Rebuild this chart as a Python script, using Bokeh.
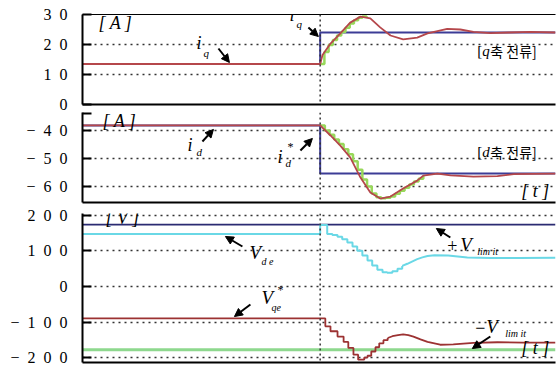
from bokeh.plotting import figure
from bokeh.layouts import column
from bokeh.models import Range1d, FixedTicker, Span, Label, Arrow, NormalHead, LinearAxis
from bokeh.embed import file_html
from bokeh.resources import INLINE

# ---------------- data (time axis, step at t_step) ----------------
t_step = 50.7
t_end = 100.9
t_span = [0, 100.9]

# panel 1 : q-axis current
iq_ref_t = [0, 50.7, 50.7, 100.9]
iq_ref_v = [13.5, 13.5, 24.0, 24.0]
iq_t = [0, 50.7, 51.2, 52.9, 55.0, 57.1, 59.3, 61.4, 63.5, 65.7, 68.4, 71.4, 73.6,
        77.8, 80.6, 83.4, 87.0, 91.0, 95.5, 100.9]
iq_v = [13.5, 13.5, 16.5, 20.3, 23.7, 27.3, 29.3, 28.7, 25.7, 23.0, 21.7, 22.3, 23.7,
        25.2, 25.0, 24.2, 23.8, 24.0, 24.2, 24.0]
iq_smp_t = [50.7, 51.6, 52.5, 53.4, 54.3, 55.2, 56.1, 57.0, 57.9, 58.8, 59.7, 60.6]
iq_smp_v = [13.5, 17.5, 19.8, 21.5, 23.0, 24.2, 25.6, 27.0, 28.1, 28.9, 29.3, 29.2]

# panel 2 : d-axis current
id_ref_t = [0, 50.7, 50.7, 100.9]
id_ref_v = [-38.2, -38.2, -55.4, -55.4]
id_t = [0, 50.7, 52.9, 55.0, 57.1, 59.3, 61.4, 63.5, 65.7, 68.4, 71.4, 72.7, 75.7,
        78.5, 83.4, 88.5, 92.0, 100.9]
id_v = [-38.2, -38.2, -41.8, -45.4, -49.6, -56.8, -62.1, -64.3, -63.6, -60.7, -57.9,
        -56.1, -55.4, -56.0, -56.5, -56.3, -55.6, -55.4]
id_smp_t = [50.7, 51.7, 52.7, 53.7, 54.7, 55.7, 56.7, 57.7, 58.7, 59.7, 60.7, 61.7,
            62.7, 63.7, 64.7, 65.7, 66.7, 67.7, 68.7, 69.7, 70.7, 71.7, 72.7]
id_smp_v = [-38.2, -40.0, -41.5, -43.2, -44.8, -46.7, -48.5, -51.0, -54.0, -57.5, -60.0,
            -62.5, -63.8, -64.2, -64.0, -63.6, -62.6, -61.5, -60.4, -59.3, -58.2, -57.2, -56.2]

# panel 3 : voltages
v_limit_pos = [174, 174]
v_limit_neg = [-178, -178]
# V_de: sampled (stair) part, then smooth part
vde_stair_t = [0, 50.7, 52.2, 53.3, 54.4, 55.4, 56.5, 57.6, 58.6, 59.7, 60.8, 61.8,
               62.9, 64.0, 65.0, 66.1, 67.2, 68.2]
vde_stair_v = [148, 173, 148, 145, 140, 133, 124, 113, 101, 87, 73, 59,
               47, 40, 39, 43, 50, 58]
vde_t = [68.2, 69.3, 70.4, 71.4, 72.5, 73.6, 75.1, 78.0, 82.1, 87.0, 93.0, 100.9]
vde_v = [58, 64, 71, 77, 82, 86, 88, 87, 82, 80, 80, 81]
# V_qe*: sampled (stair) part, then smooth part
vqe_stair_t = [0, 50.7, 51.8, 52.9, 54.4, 55.7, 56.7, 57.8, 58.8, 60.1, 60.8, 61.6,
               62.5, 63.3, 64.2, 65.1]
vqe_stair_v = [-90, -90, -112, -126, -141, -156, -173, -192, -206, -200, -195, -183,
               -171, -160, -151, -145]
vqe_t = [65.1, 66.1, 67.3, 68.4, 69.5, 70.6, 72.1, 73.6, 76.3, 79.1, 83.4, 88.5, 94.0,
         100.9]
vqe_v = [-145, -140, -137, -135, -137, -141, -149, -156, -164, -163, -159, -157, -158,
         -158]

# ticks
p1_ticks = [0, 10, 20, 30]
p1_labels = ["0", "1\u20020", "2\u20020", "3\u20020"]
p2_ticks = [-60, -50, -40]
p2_labels = ["\u2212\u20026\u20020", "\u2212\u20025\u20020", "\u2212\u20024\u20020"]
p3_ticks = [-200, -100, 0, 100, 200]
p3_labels = ["\u2212\u20022\u20020\u20020", "\u2212\u20021\u20020\u20020", "0",
             "1\u20020\u20020", "2\u20020\u20020"]

# ---------------- styling ----------------
SERIF = "'Liberation Serif'"
CJK = "'Noto Sans CJK KR'"
RED = "#b5474b"
NAVY = "#3c3c96"
GREEN = "#98d85a"
CYAN = "#6ad8e6"
DNAVY = "#2b2b72"
LGREEN = "#8ed88e"
VRED = "#9c3232"
GRID = "#333333"

FR_L, FR_W = 82, 473
PX_PER_T = 4.69


def tx(px):
    return (px - FR_L) / PX_PER_T


def make_fig(ylo, yhi, frame_h, b_top, b_bot, ticks, labels, grid_ticks, extra_tick=None):
    p = figure(frame_width=FR_W, frame_height=frame_h,
               x_range=Range1d(0, t_end), y_range=Range1d(ylo, yhi),
               output_backend="svg", toolbar_location=None,
               min_border_left=FR_L, min_border_right=2,
               min_border_top=b_top, min_border_bottom=b_bot)
    p.outline_line_color = None
    p.background_fill_color = "white"
    p.border_fill_color = "white"
    p.xgrid.visible = False
    all_ticks = list(ticks) + ([extra_tick] if extra_tick is not None else [])
    p.yaxis.ticker = FixedTicker(ticks=all_ticks)
    ov = {k: v for k, v in zip(ticks, labels)}
    if extra_tick is not None:
        ov[extra_tick] = ""
    p.yaxis.major_label_overrides = ov
    p.yaxis.major_tick_in = 9
    p.yaxis.major_tick_out = 0
    p.yaxis.minor_tick_line_color = None
    p.yaxis.axis_line_width = 2
    p.yaxis.major_tick_line_width = 2
    p.yaxis.major_label_standoff = 15
    p.yaxis.major_label_text_font = SERIF
    p.yaxis.major_label_text_font_size = "16px"
    p.yaxis.major_label_text_color = "black"
    p.xaxis.ticker = FixedTicker(ticks=[])
    p.xaxis.axis_line_width = 2
    p.xaxis.major_tick_out = 0
    p.xaxis.major_label_standoff = 0
    p.xaxis.minor_tick_line_color = None
    p.ygrid.ticker = FixedTicker(ticks=grid_ticks)
    p.ygrid.grid_line_color = GRID
    p.ygrid.grid_line_dash = "2 4"
    p.ygrid.grid_line_width = 1.5
    p.add_layout(Span(location=t_step, dimension="height", line_color=GRID,
                      line_dash="2 3", line_width=1.5))
    return p


def lab(p, x, y, text, size=17, italic=True, font=SERIF, dx=0, bg=None):
    p.add_layout(Label(x=x, y=y, text=text, text_font=font, text_font_size=f"{size}px",
                       text_font_style="italic" if italic else "normal",
                       text_baseline="middle", text_align="left", x_offset=dx,
                       text_color="black", background_fill_color=bg))


def arrow(p, x0, y0, x1, y1):
    p.add_layout(Arrow(end=NormalHead(size=8, fill_color="black", line_color="black"),
                       x_start=x0, y_start=y0, x_end=x1, y_end=y1,
                       line_color="black", line_width=2))


def kor_label(p, x, y, letter, rest):
    lab(p, x, y, "[", size=15, italic=False)
    lab(p, x, y, letter, size=15, italic=True, dx=5)
    lab(p, x, y, rest, size=14, italic=False, font=CJK, dx=13)


# ---------------- panel 1 ----------------
py1 = lambda y: (104 - y) / 3
p1 = make_fig(0, 30, 90, 14, 8, p1_ticks, p1_labels, [10, 20])
p1.add_layout(LinearAxis(ticker=FixedTicker(ticks=[]), major_tick_out=0,
                         major_label_standoff=0, axis_line_width=1.2), "above")
p1.line(iq_ref_t, iq_ref_v, color=NAVY, line_width=2)
p1.step(iq_smp_t, iq_smp_v, mode="after", color=GREEN, line_width=2.5)
p1.line(iq_t, iq_v, color=RED, line_width=1.8)
lab(p1, tx(98), py1(22), "[ A ]", size=18)
lab(p1, tx(196), py1(42), "i", size=18)
lab(p1, tx(203), py1(52), "q", size=11)
arrow(p1, tx(218), py1(48), tx(229), py1(62))
lab(p1, tx(289), py1(14), "i", size=18)
lab(p1, tx(297), py1(7), "*", size=12, italic=False)
lab(p1, tx(296), py1(23), "q", size=11)
arrow(p1, tx(308), py1(27), tx(318), py1(36))
kor_label(p1, tx(477), py1(50), "q", "축 전류]")

# ---------------- panel 2 ----------------
py2 = lambda y: -40 - (y - 130) / 2.8
p2 = make_fig(-65.7, -33.6, 90, 0, 3, p2_ticks, p2_labels, p2_ticks, extra_tick=-34)
p2.line(id_ref_t, id_ref_v, color=NAVY, line_width=2)
p2.step(id_smp_t, id_smp_v, mode="after", color=GREEN, line_width=2.5)
p2.line(id_t, id_v, color=RED, line_width=1.8)
lab(p2, tx(102), py2(121), "[ A ]", size=18)
lab(p2, tx(187), py2(145), "i", size=18)
lab(p2, tx(196), py2(152), "d", size=11)
arrow(p2, tx(202), py2(141), tx(213), py2(129))
lab(p2, tx(277), py2(157), "i", size=18)
lab(p2, tx(287), py2(147), "*", size=12, italic=False)
lab(p2, tx(285), py2(163), "d", size=11)
arrow(p2, tx(300), py2(150), tx(312), py2(138))
kor_label(p2, tx(477), py2(152), "d", "축 전류]")
lab(p2, tx(521), py2(190), "[ t ]", size=18)

# ---------------- panel 3 ----------------
py3 = lambda y: 200 - (y - 215) / 0.355
p3 = make_fig(-214, 205.6, 149, 8, 3, p3_ticks, p3_labels, p3_ticks)
p3.line(t_span, v_limit_pos, color=DNAVY, line_width=1.8)
p3.line(t_span, v_limit_neg, color=LGREEN, line_width=3)
p3.step(vde_stair_t, vde_stair_v, mode="after", color=CYAN, line_width=2)
p3.line(vde_t, vde_v, color=CYAN, line_width=2)
p3.step(vqe_stair_t, vqe_stair_v, mode="after", color=VRED, line_width=1.8)
p3.line(vqe_t, vqe_v, color=VRED, line_width=1.8)
lab(p3, tx(105), py3(218), "[ V ]", size=18)
lab(p3, tx(249), py3(252), "V", size=19)
lab(p3, tx(261), py3(261), "d e", size=10)
arrow(p3, tx(242), py3(246), tx(225), py3(236))
lab(p3, tx(261), py3(297), "V", size=19)
lab(p3, tx(277), py3(289), "*", size=12, italic=False)
lab(p3, tx(271), py3(307), "qe", size=10)
arrow(p3, tx(250), py3(304), tx(234), py3(316))
lab(p3, tx(447), py3(245), "+", size=18, italic=False)
lab(p3, tx(460), py3(244), "V", size=19)
lab(p3, tx(477), py3(251), "lim it", size=10)
arrow(p3, tx(450), py3(237), tx(436), py3(228))
lab(p3, tx(475), py3(327), "\u2212", size=18, italic=False)
lab(p3, tx(486), py3(326), "V", size=19)
lab(p3, tx(505), py3(333), "lim it", size=10)
arrow(p3, tx(490), py3(336), tx(472), py3(348))
lab(p3, tx(521), py3(347), "[ t ]", size=18)

layout = column(p1, p2, p3, spacing=0)
open("out.html", "w").write(file_html(layout, INLINE))
